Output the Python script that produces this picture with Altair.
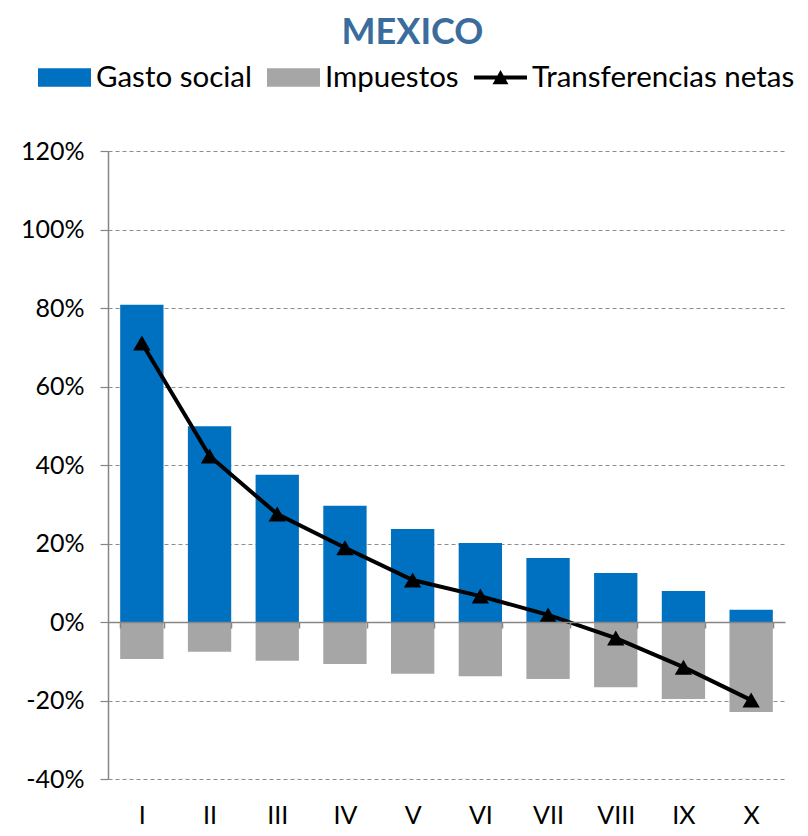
import altair as alt
import pandas as pd

deciles = ["I", "II", "III", "IV", "V", "VI", "VII", "VIII", "IX", "X"]
gasto_social = [80.8, 49.9, 37.5, 29.6, 23.7, 20.1, 16.3, 12.5, 7.9, 3.1]
impuestos = [-9.4, -7.6, -9.9, -10.7, -13.2, -13.8, -14.5, -16.6, -19.6, -22.9]
transferencias = [71.1, 42.3, 27.5, 18.9, 10.7, 6.6, 1.8, -4.1, -11.5, -19.9]
series = ["Gasto social", "Impuestos", "Transferencias netas"]
colors = ["#0070C0", "#A6A6A6", "#000000"]
y_ticks = [-40, -20, 0, 20, 40, 60, 80, 100, 120]

bars_df = pd.DataFrame({
    "decil": deciles * 2,
    "valor": gasto_social + impuestos,
    "serie": [series[0]] * len(deciles) + [series[1]] * len(deciles),
})
line_df = pd.DataFrame({"decil": deciles, "valor": transferencias})

FONT = "Lato"
AXIS_GREY = "#868686"

x_enc = alt.X(
    "decil:N",
    sort=deciles,
    scale=alt.Scale(paddingInner=0.36, paddingOuter=0.18),
    axis=alt.Axis(
        title=None,
        orient="bottom",
        offset=-157,
        labelAngle=0,
        labelFont=FONT,
        labelFontSize=25,
        labelColor="#000000",
        labelPadding=175,
        domainColor=AXIS_GREY,
        domainWidth=1.5,
        tickColor=AXIS_GREY,
        tickWidth=1.5,
        tickSize=6,
        tickBand="extent",
        zindex=1,
    ),
)

y_enc = alt.Y(
    "valor:Q",
    scale=alt.Scale(domain=[-40, 120], nice=False, zero=False),
    axis=alt.Axis(
        title=None,
        values=y_ticks,
        labelExpr="datum.value + '%'",
        labelFont=FONT,
        labelFontSize=25,
        labelColor="#000000",
        labelPadding=16,
        grid=True,
        gridDash=[4, 3],
        gridColor="#8C8C8C",
        gridWidth=1.2,
        domainColor=AXIS_GREY,
        domainWidth=1.5,
        tickColor=AXIS_GREY,
        tickWidth=1.2,
        tickSize=8,
    ),
)

rect_path = "M-1,-0.35H1V0.35H-1Z"
line_path = "M-1,-0.075H1V0.075H-1Z M0,-0.28L0.3,0.25H-0.3Z"
shape_expr = (
    "datum.value === 'Transferencias netas' ? '" + line_path + "' : '" + rect_path + "'"
)

bars = alt.Chart(bars_df).mark_bar().encode(
    x=x_enc,
    y=y_enc,
    color=alt.Color(
        "serie:N",
        scale=alt.Scale(domain=series, range=colors),
        legend=alt.Legend(
            title=None,
            orient="none",
            legendX=-70,
            legendY=-100,
            direction="horizontal",
            labelFont=FONT,
            labelFontSize=29.5,
            labelColor="#000000",
            labelOffset=5,
            labelLimit=500,
            columnPadding=15,
            symbolSize=2809,
            symbolStrokeWidth=0,
            symbolType=alt.ExprRef(shape_expr),
        ),
    ),
)

line = alt.Chart(line_df).mark_line(color="#000000", strokeWidth=4).encode(
    x=alt.X("decil:N", sort=deciles),
    y=alt.Y("valor:Q"),
)

points = alt.Chart(line_df).mark_point(
    shape="triangle-up", filled=True, size=300, color="#000000", opacity=1
).encode(
    x=alt.X("decil:N", sort=deciles),
    y=alt.Y("valor:Q"),
)

chart = alt.layer(bars, line, points).properties(
    width=677,
    height=628,
    title=alt.TitleParams(
        "MEXICO",
        font=FONT,
        fontSize=36,
        fontWeight="bold",
        color="#3B6C9E",
        anchor="middle",
        dx=-34,
        offset=-1,
    ),
    autosize=alt.AutoSizeParams(type="none"),
    padding={"left": 100, "top": 143, "right": 15, "bottom": 49},
).configure_view(stroke=None)

chart.save("out.html", embed_options={"renderer": "svg", "actions": False})
